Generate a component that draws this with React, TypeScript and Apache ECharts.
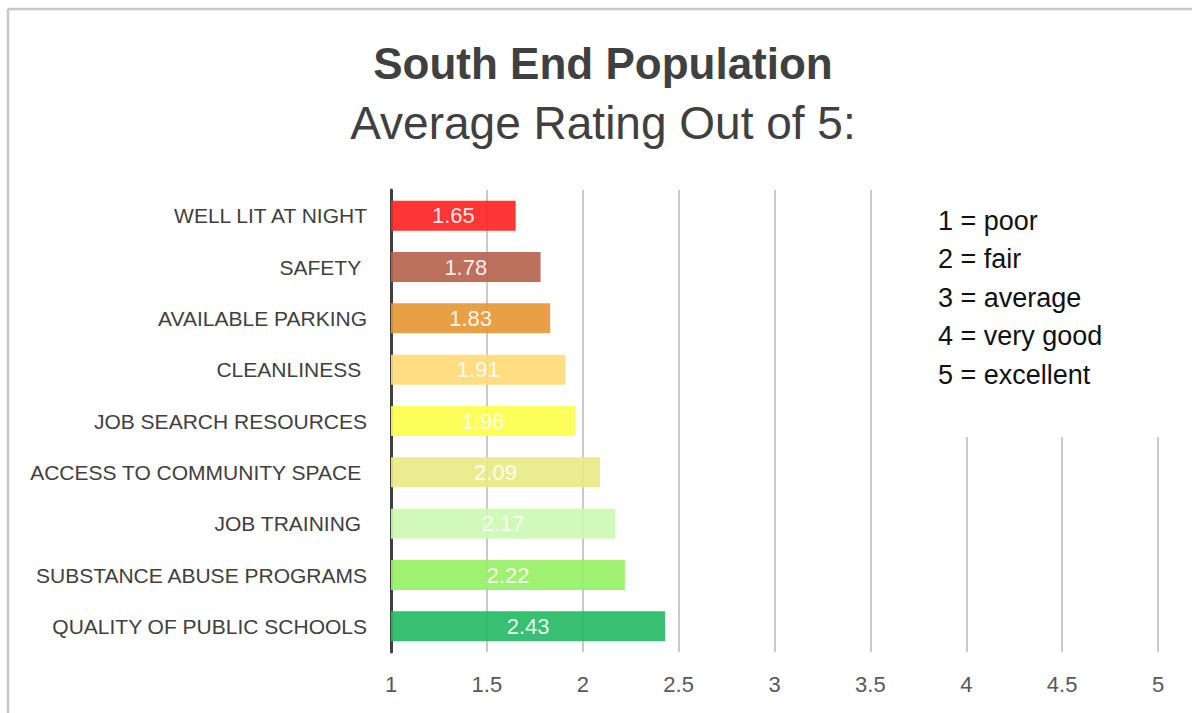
import React, { useEffect, useRef } from "react";
import * as echarts from "echarts";

const categories = [
  "WELL LIT AT NIGHT",
  "SAFETY\u00a0",
  "AVAILABLE PARKING",
  "CLEANLINESS\u00a0",
  "JOB SEARCH RESOURCES",
  "ACCESS TO COMMUNITY SPACE\u00a0",
  "JOB TRAINING\u00a0",
  "SUBSTANCE ABUSE PROGRAMS",
  "QUALITY OF PUBLIC SCHOOLS",
];
const ratings = [1.65, 1.78, 1.83, 1.91, 1.96, 2.09, 2.17, 2.22, 2.43];
const barColors = [
  "#FF2020",
  "#B5604D",
  "#E49630",
  "#FFDA76",
  "#FFFF4A",
  "#E9E984",
  "#CBF8B2",
  "#96F062",
  "#24B862",
];
const scaleKey = ["1 = poor", "2 = fair", "3 = average", "4 = very good", "5 = excellent"];
const titleText = "South End Population";
const subtitleText = "Average Rating Out of 5:";

const FONT = "'Liberation Sans', Arial, sans-serif";

export default function App() {
  const ref = useRef<HTMLDivElement>(null);
  useEffect(() => {
    if (!ref.current) return;
    const chart = echarts.init(ref.current, null, { renderer: "svg" });
    const keyTexts = scaleKey.map((t, i) => ({
      type: "text",
      z: 60,
      left: 938,
      top: 222 + i * 38.5 - 15,
      style: { text: t, fontSize: 27, fontFamily: FONT, fill: "#111111" },
    }));
    chart.setOption({
      animation: false,
      backgroundColor: "#ffffff",
      textStyle: { fontFamily: FONT },
      grid: { left: 391, right: 34, top: 190, bottom: 61, containLabel: false },
      xAxis: {
        type: "value",
        min: 1,
        max: 5,
        interval: 0.5,
        axisLine: { show: false },
        axisTick: { show: false },
        splitLine: { show: true, lineStyle: { color: "#b8b8b8", width: 1.5 } },
        axisLabel: { color: "#595959", fontSize: 22, fontFamily: FONT, margin: 21 },
      },
      yAxis: {
        type: "category",
        data: categories,
        inverse: true,
        axisLine: { show: true, lineStyle: { color: "#404040", width: 3 } },
        axisTick: { show: false },
        axisLabel: { color: "#404040", fontSize: 21, fontFamily: FONT, margin: 24 },
      },
      series: [
        {
          type: "bar",
          barWidth: 30,
          data: ratings.map((v, i) => ({
            value: v,
            itemStyle: { color: barColors[i], opacity: 0.9 },
          })),
          label: {
            show: true,
            position: "inside",
            color: "#ffffff",
            fontSize: 22,
            fontFamily: FONT,
            formatter: (p: any) => Number(p.value).toFixed(2),
          },
        },
      ],
      graphic: [
        {
          type: "line",
          z: 70,
          shape: { x1: 8, y1: 9, x2: 1192, y2: 9 },
          style: { stroke: "#c6c6c6", lineWidth: 2.5 },
        },
        {
          type: "line",
          z: 70,
          shape: { x1: 8, y1: 9, x2: 8, y2: 713 },
          style: { stroke: "#c6c6c6", lineWidth: 2.5 },
        },
        {
          type: "rect",
          z: 50,
          shape: { x: 915, y: 186, width: 270, height: 251 },
          style: { fill: "#ffffff" },
        },
        {
          type: "text",
          z: 60,
          x: 603,
          y: 63,
          style: {
            text: titleText,
            fontSize: 44,
            fontWeight: "bold",
            fontFamily: FONT,
            fill: "#404040",
            textAlign: "center",
            textVerticalAlign: "middle",
          },
        },
        {
          type: "text",
          z: 60,
          x: 603,
          y: 123,
          style: {
            text: subtitleText,
            fontSize: 46,
            fontFamily: FONT,
            fill: "#404040",
            textAlign: "center",
            textVerticalAlign: "middle",
          },
        },
        ...keyTexts,
      ],
    });
    return () => chart.dispose();
  }, []);
  return (
    <div
      ref={ref}
      style={{ position: "fixed", left: 0, top: 0, width: 1192, height: 713 }}
    />
  );
}
